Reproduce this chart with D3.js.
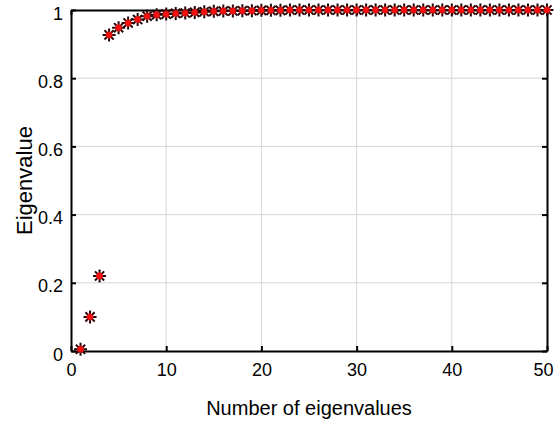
<!DOCTYPE html>
<html>
<head>
<meta charset="utf-8">
<script src="https://cdn.jsdelivr.net/npm/d3@7"></script>
<style>
body { margin: 0; background: #fff; }
text { font-family: 'Liberation Sans', Arial, sans-serif; fill: #000; }
</style>
</head>
<body>
<div id="chart"></div>
<script>
var width = 556
var height = 426

// eigenvalue index and normalised value
var index = d3.range(1, 51)
var eigen = [0.005, 0.10, 0.22, 0.927, 0.948, 0.962, 0.972, 0.982, 0.986, 0.988,
    0.990, 0.991, 0.993, 0.995, 0.996, 0.997, 0.997, 0.998, 0.998, 0.999,
    0.999, 0.999, 1, 1, 1, 1, 1, 1, 1, 1,
    1, 1, 1, 1, 1, 1, 1, 1, 1, 1,
    1, 1, 1, 1, 1, 1, 1, 1, 1, 1]
var xTicks = [0, 10, 20, 30, 40, 50]
var yTicks = [0, 0.2, 0.4, 0.6, 0.8, 1]

var margin = { left: 71, right: 9, top: 10, bottom: 75 }

var x = d3.scaleLinear()
    .domain([0, 50])
    .range([margin.left, width - margin.right])

var y = d3.scaleLinear()
    .domain([0, 1])
    .range([height - margin.bottom, margin.top])

var svg = d3.select('#chart').append('svg')
    .attr('width', width)
    .attr('height', height)

// grid
svg.append('g')
    .selectAll('line')
    .data(xTicks.slice(1, -1))
    .enter().append('line')
    .attr('x1', function(d) { return x(d) })
    .attr('x2', function(d) { return x(d) })
    .attr('y1', y(0))
    .attr('y2', y(1))
    .attr('stroke', '#d6d6d6')
    .attr('stroke-width', 1)

svg.append('g')
    .selectAll('line')
    .data(yTicks.slice(1, -1))
    .enter().append('line')
    .attr('x1', x(0))
    .attr('x2', x(50))
    .attr('y1', function(d) { return y(d) })
    .attr('y2', function(d) { return y(d) })
    .attr('stroke', '#d6d6d6')
    .attr('stroke-width', 1)

// axes with inward ticks
var xAxis = svg.append('g')
    .attr('transform', 'translate(0,' + y(0) + ')')
    .call(d3.axisBottom(x).tickValues(xTicks).tickSize(-5).tickPadding(12).tickSizeOuter(0))

var yAxis = svg.append('g')
    .attr('transform', 'translate(' + x(0) + ',0)')
    .call(d3.axisLeft(y).tickValues(yTicks).tickSize(-5).tickPadding(8).tickSizeOuter(0)
        .tickFormat(function(d) { return d === 0 || d === 1 ? d : d3.format('.1f')(d) }))

svg.append('g')
    .attr('transform', 'translate(' + x(50) + ',0)')
    .call(d3.axisRight(y).tickValues(yTicks).tickSize(-5).tickSizeOuter(0).tickFormat(''))

svg.append('g')
    .attr('transform', 'translate(0,' + y(1) + ')')
    .call(d3.axisTop(x).tickValues(xTicks).tickSize(-5).tickSizeOuter(0).tickFormat(''))

svg.selectAll('.domain').attr('stroke', '#000').attr('stroke-width', 2)
svg.selectAll('.tick line').attr('stroke', '#000').attr('stroke-width', 2)
svg.selectAll('.tick text').attr('font-size', 18).attr('fill', '#000')
    .attr('font-family', "'Liberation Sans', Arial, sans-serif")
yAxis.selectAll('.tick text').attr('dy', '0.5em')
xAxis.selectAll('.tick text').attr('dy', '0.72em')
// last label sits against the page edge
xAxis.selectAll('.tick text').filter(function(d) { return d === 50 }).attr('dx', -4)

// labels
svg.append('text')
    .attr('x', (x(0) + x(50)) / 2)
    .attr('y', 415)
    .attr('text-anchor', 'middle')
    .attr('font-size', 20)
    .text('Number of eigenvalues')

svg.append('text')
    .attr('transform', 'translate(32,' + (y(0) + y(1)) / 2 + ') rotate(-90)')
    .attr('text-anchor', 'middle')
    .attr('font-size', 22)
    .text('Eigenvalue')

// asterisk markers
function star(r) {
    var p = ''
    for (var i = 0; i < 4; i++) {
        var a = i * Math.PI / 4
        var dx = r * Math.cos(a), dy = r * Math.sin(a)
        p += 'M' + (-dx) + ',' + (-dy) + 'L' + dx + ',' + dy
    }
    return p
}

var pts = svg.append('g')
    .selectAll('g')
    .data(index)
    .enter().append('g')
    .attr('transform', function(d, i) { return 'translate(' + x(d) + ',' + y(eigen[i]) + ')' })

pts.append('path')
    .attr('d', star(6.5))
    .attr('stroke', '#2a0404')
    .attr('stroke-width', 2)
    .attr('fill', 'none')

pts.append('path')
    .attr('d', star(3.5))
    .attr('stroke', '#e81010')
    .attr('stroke-width', 2)
    .attr('fill', 'none')

pts.append('circle')
    .attr('r', 1.8)
    .attr('fill', '#ff1010')
</script>
</body>
</html>
